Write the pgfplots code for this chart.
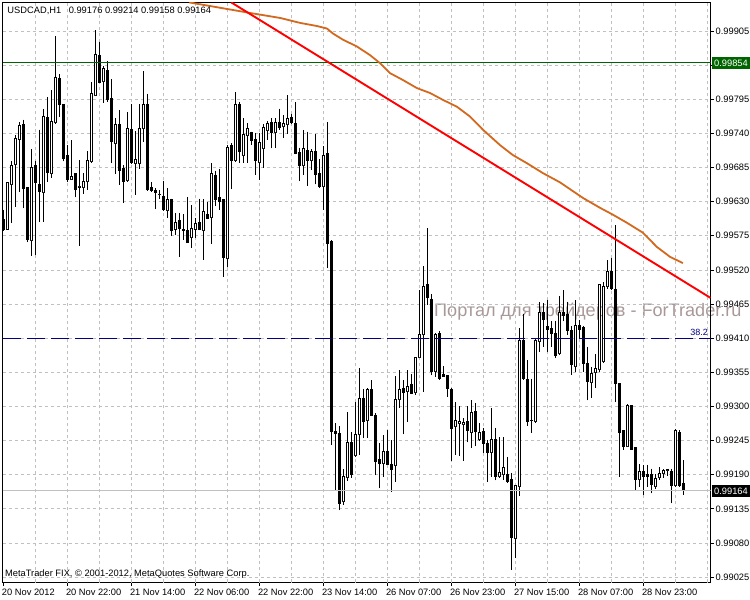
\documentclass[border=0pt]{standalone}
\usepackage{pgfplots}
\pgfplotsset{compat=1.18}
\usepgfplotslibrary{statistics}
\usepackage{fontspec}
\setmainfont{Liberation Sans}
\definecolor{gridc}{RGB}{192,192,192}
\definecolor{mgreen}{RGB}{0,100,0}
\definecolor{navyc}{RGB}{0,0,128}
\definecolor{maorange}{RGB}{210,105,30}
\definecolor{wmark}{RGB}{168,152,152}
\pgfplotsset{candle/.style={black, line width=0.9bp, boxplot/draw direction=y, boxplot/box extend=0.5, boxplot/whisker extend=0, boxplot/every median/.style={draw=none}}}
% prices are plotted as points above 0.99000 (e.g. 0.99586 -> 586)
\def\cptaux0.99#1\relax{#1}
\def\cpt#1{\expandafter\cptaux#1\relax}
% \candle{index}{open}{high}{low}{close}
\newcommand\candle[5]{%
  \ifdim #5pt<#2pt
    \def\cFill{black}\def\cLo{#5}\def\cHi{#2}%
  \else
    \def\cFill{white}\def\cLo{#2}\def\cHi{#5}%
  \fi
  \edef\cTmp{\noexpand\addplot[candle,fill=\cFill,boxplot prepared={draw position=#1,lower whisker=\cpt{#4},lower quartile=\cpt{\cLo},median=\cpt{\cLo},upper quartile=\cpt{\cHi},upper whisker=\cpt{#3}}] coordinates {};}%
  \cTmp}
\begin{document}
\begin{tikzpicture}
\useasboundingbox (0,0) rectangle (750bp,600bp);
% watermark (behind the chart)
\node[anchor=base west, inner sep=0pt, text=wmark, font=\fontsize{18.1bp}{20bp}\selectfont] at (434bp,283bp) {Портал для трейдеров - ForTrader.ru};
\begin{axis}[
  at={(2.7bp,17.5bp)}, anchor=south west,
  scale only axis, width=707.8bp, height=580bp,
  xmin=-0.15, xmax=176.8, ymin=16.4, ymax=950.9,
  axis line style={black, line width=0.9bp},
  font=\fontsize{9.3bp}{11bp}\selectfont,
  tick label style={font=\fontsize{9.3bp}{11bp}\selectfont},
  tick align=outside, major tick length=3.5bp,
  tick style={black, line width=0.8bp},
  xtick pos=bottom, ytick pos=right, yticklabel pos=right,
  xtick={0,16,32,48,64,80,96,112,128,144,160},
  xticklabels={20 Nov 2012,20 Nov 22:00,21 Nov 14:00,22 Nov 06:00,22 Nov 22:00,23 Nov 14:00,26 Nov 07:00,26 Nov 23:00,27 Nov 15:00,28 Nov 07:00,28 Nov 23:00},
  xticklabel style={anchor=north west, inner sep=0pt, xshift=-1.5bp, yshift=-2.5bp},
  extra x ticks={8,16,24,32,40,48,56,64,72,80,88,96,104,112,120,128,136,144,152,160,168,176},
  extra x tick labels={},
  extra x tick style={xmajorgrids=true, major tick length=0pt},
  xmajorgrids=false, ymajorgrids=true,
  major grid style={gridc, dash pattern=on 3bp off 3bp, line width=0.8bp},
  ytick={25,80,135,190,245,300,355,410,465,520,575,630,685,740,795,850,905},
  yticklabels={0.99025,0.99080,0.99135,0.99190,0.99245,0.99300,0.99355,0.99410,0.99465,0.99520,0.99575,0.99630,0.99685,0.99740,0.99795,{},0.99905},
  yticklabel style={anchor=west, inner sep=0pt, xshift=1.5bp},
]
\candle{0}{0.99602}{0.99617}{0.99583}{0.99586}
\candle{1}{0.99586}{0.99662}{0.99584}{0.99661}
\candle{2}{0.99658}{0.99695}{0.99595}{0.99689}
\candle{3}{0.99690}{0.99738}{0.99622}{0.99732}
\candle{4}{0.99731}{0.99759}{0.99646}{0.99752}
\candle{5}{0.99754}{0.99762}{0.99619}{0.99652}
\candle{6}{0.99653}{0.99654}{0.99565}{0.99569}
\candle{7}{0.99568}{0.99715}{0.99543}{0.99685}
\candle{8}{0.99688}{0.99696}{0.99544}{0.99661}
\candle{9}{0.99658}{0.99746}{0.99597}{0.99646}
\candle{10}{0.99645}{0.99779}{0.99598}{0.99768}
\candle{11}{0.99766}{0.99799}{0.99662}{0.99677}
\candle{12}{0.99676}{0.99810}{0.99668}{0.99760}
\candle{13}{0.99757}{0.99897}{0.99756}{0.99830}
\candle{14}{0.99828}{0.99835}{0.99767}{0.99786}
\candle{15}{0.99786}{0.99786}{0.99695}{0.99700}
\candle{16}{0.99704}{0.99721}{0.99662}{0.99665}
\candle{17}{0.99666}{0.99729}{0.99665}{0.99671}
\candle{18}{0.99675}{0.99676}{0.99637}{0.99650}
\candle{19}{0.99654}{0.99697}{0.99559}{0.99653}
\candle{20}{0.99653}{0.99676}{0.99642}{0.99663}
\candle{21}{0.99662}{0.99711}{0.99648}{0.99696}
\candle{22}{0.99695}{0.99823}{0.99693}{0.99804}
\candle{23}{0.99801}{0.99906}{0.99801}{0.99867}
\candle{24}{0.99865}{0.99888}{0.99821}{0.99822}
\candle{25}{0.99823}{0.99848}{0.99789}{0.99845}
\candle{26}{0.99841}{0.99857}{0.99791}{0.99794}
\candle{27}{0.99797}{0.99828}{0.99692}{0.99727}
\candle{28}{0.99724}{0.99764}{0.99674}{0.99754}
\candle{29}{0.99754}{0.99778}{0.99657}{0.99681}
\candle{30}{0.99683}{0.99689}{0.99628}{0.99662}
\candle{31}{0.99664}{0.99774}{0.99663}{0.99748}
\candle{32}{0.99747}{0.99787}{0.99692}{0.99693}
\candle{33}{0.99692}{0.99744}{0.99640}{0.99698}
\candle{34}{0.99692}{0.99787}{0.99683}{0.99748}
\candle{35}{0.99748}{0.99840}{0.99726}{0.99787}
\candle{36}{0.99787}{0.99804}{0.99648}{0.99649}
\candle{37}{0.99653}{0.99662}{0.99646}{0.99648}
\candle{38}{0.99648}{0.99652}{0.99618}{0.99645}
\candle{39}{0.99642}{0.99648}{0.99635}{0.99641}
\candle{40}{0.99639}{0.99664}{0.99615}{0.99617}
\candle{41}{0.99616}{0.99652}{0.99604}{0.99634}
\candle{42}{0.99633}{0.99635}{0.99575}{0.99583}
\candle{43}{0.99586}{0.99611}{0.99576}{0.99597}
\candle{44}{0.99599}{0.99612}{0.99541}{0.99587}
\candle{45}{0.99586}{0.99610}{0.99568}{0.99583}
\candle{46}{0.99584}{0.99637}{0.99563}{0.99565}
\candle{47}{0.99573}{0.99625}{0.99555}{0.99587}
\candle{48}{0.99586}{0.99603}{0.99572}{0.99595}
\candle{49}{0.99597}{0.99635}{0.99584}{0.99586}
\candle{50}{0.99584}{0.99635}{0.99536}{0.99615}
\candle{51}{0.99610}{0.99630}{0.99602}{0.99603}
\candle{52}{0.99605}{0.99692}{0.99561}{0.99675}
\candle{53}{0.99672}{0.99680}{0.99623}{0.99634}
\candle{54}{0.99637}{0.99683}{0.99617}{0.99630}
\candle{55}{0.99634}{0.99635}{0.99509}{0.99540}
\candle{56}{0.99539}{0.99721}{0.99525}{0.99718}
\candle{57}{0.99720}{0.99724}{0.99650}{0.99696}
\candle{58}{0.99696}{0.99807}{0.99695}{0.99786}
\candle{59}{0.99787}{0.99791}{0.99692}{0.99711}
\candle{60}{0.99705}{0.99765}{0.99692}{0.99739}
\candle{61}{0.99736}{0.99756}{0.99693}{0.99748}
\candle{62}{0.99742}{0.99743}{0.99722}{0.99728}
\candle{63}{0.99731}{0.99741}{0.99673}{0.99696}
\candle{64}{0.99693}{0.99741}{0.99665}{0.99726}
\candle{65}{0.99716}{0.99755}{0.99684}{0.99749}
\candle{66}{0.99744}{0.99760}{0.99729}{0.99756}
\candle{67}{0.99757}{0.99764}{0.99716}{0.99742}
\candle{68}{0.99741}{0.99764}{0.99717}{0.99758}
\candle{69}{0.99758}{0.99780}{0.99746}{0.99749}
\candle{70}{0.99751}{0.99769}{0.99733}{0.99756}
\candle{71}{0.99755}{0.99802}{0.99739}{0.99764}
\candle{72}{0.99766}{0.99772}{0.99755}{0.99758}
\candle{73}{0.99756}{0.99790}{0.99706}{0.99708}
\candle{74}{0.99710}{0.99717}{0.99663}{0.99689}
\candle{75}{0.99689}{0.99746}{0.99673}{0.99716}
\candle{76}{0.99713}{0.99743}{0.99656}{0.99697}
\candle{77}{0.99697}{0.99715}{0.99681}{0.99711}
\candle{78}{0.99711}{0.99739}{0.99658}{0.99674}
\candle{79}{0.99675}{0.99699}{0.99653}{0.99654}
\candle{80}{0.99654}{0.99720}{0.99617}{0.99705}
\candle{81}{0.99708}{0.99758}{0.99523}{0.99562}
\candle{82}{0.99566}{0.99568}{0.99238}{0.99259}
\candle{83}{0.99259}{0.99273}{0.99164}{0.99257}
\candle{84}{0.99257}{0.99268}{0.99133}{0.99144}
\candle{85}{0.99147}{0.99200}{0.99141}{0.99187}
\candle{86}{0.99186}{0.99291}{0.99180}{0.99242}
\candle{87}{0.99242}{0.99259}{0.99185}{0.99191}
\candle{88}{0.99221}{0.99307}{0.99219}{0.99255}
\candle{89}{0.99255}{0.99362}{0.99222}{0.99313}
\candle{90}{0.99313}{0.99328}{0.99249}{0.99276}
\candle{91}{0.99278}{0.99329}{0.99249}{0.99328}
\candle{92}{0.99328}{0.99343}{0.99285}{0.99286}
\candle{93}{0.99286}{0.99289}{0.99189}{0.99212}
\candle{94}{0.99215}{0.99241}{0.99168}{0.99208}
\candle{95}{0.99208}{0.99254}{0.99187}{0.99227}
\candle{96}{0.99227}{0.99262}{0.99206}{0.99207}
\candle{97}{0.99207}{0.99246}{0.99162}{0.99199}
\candle{98}{0.99205}{0.99349}{0.99179}{0.99312}
\candle{99}{0.99312}{0.99359}{0.99297}{0.99328}
\candle{100}{0.99329}{0.99343}{0.99255}{0.99323}
\candle{101}{0.99324}{0.99359}{0.99275}{0.99333}
\candle{102}{0.99335}{0.99352}{0.99320}{0.99321}
\candle{103}{0.99323}{0.99380}{0.99319}{0.99379}
\candle{104}{0.99379}{0.99488}{0.99378}{0.99416}
\candle{105}{0.99416}{0.99526}{0.99324}{0.99494}
\candle{106}{0.99496}{0.99587}{0.99464}{0.99475}
\candle{107}{0.99473}{0.99481}{0.99350}{0.99356}
\candle{108}{0.99356}{0.99418}{0.99348}{0.99416}
\candle{109}{0.99418}{0.99421}{0.99343}{0.99345}
\candle{110}{0.99351}{0.99365}{0.99348}{0.99348}
\candle{111}{0.99350}{0.99351}{0.99316}{0.99329}
\candle{112}{0.99328}{0.99329}{0.99212}{0.99265}
\candle{113}{0.99268}{0.99308}{0.99222}{0.99277}
\candle{114}{0.99273}{0.99300}{0.99221}{0.99276}
\candle{115}{0.99271}{0.99281}{0.99212}{0.99275}
\candle{116}{0.99276}{0.99300}{0.99242}{0.99261}
\candle{117}{0.99258}{0.99311}{0.99233}{0.99290}
\candle{118}{0.99292}{0.99306}{0.99236}{0.99259}
\candle{119}{0.99247}{0.99273}{0.99245}{0.99258}
\candle{120}{0.99259}{0.99265}{0.99225}{0.99240}
\candle{121}{0.99240}{0.99246}{0.99178}{0.99226}
\candle{122}{0.99226}{0.99297}{0.99187}{0.99247}
\candle{123}{0.99247}{0.99266}{0.99181}{0.99187}
\candle{124}{0.99187}{0.99251}{0.99186}{0.99193}
\candle{125}{0.99191}{0.99251}{0.99181}{0.99202}
\candle{126}{0.99191}{0.99219}{0.99177}{0.99179}
\candle{127}{0.99182}{0.99193}{0.99045}{0.99089}
\candle{128}{0.99088}{0.99174}{0.99070}{0.99172}
\candle{129}{0.99171}{0.99426}{0.99156}{0.99406}
\candle{130}{0.99407}{0.99449}{0.99344}{0.99345}
\candle{131}{0.99344}{0.99375}{0.99269}{0.99276}
\candle{132}{0.99278}{0.99345}{0.99258}{0.99277}
\candle{133}{0.99276}{0.99408}{0.99274}{0.99407}
\candle{134}{0.99404}{0.99469}{0.99388}{0.99452}
\candle{135}{0.99452}{0.99466}{0.99396}{0.99440}
\candle{136}{0.99429}{0.99472}{0.99388}{0.99424}
\candle{137}{0.99425}{0.99437}{0.99396}{0.99418}
\candle{138}{0.99417}{0.99437}{0.99378}{0.99383}
\candle{139}{0.99386}{0.99478}{0.99383}{0.99451}
\candle{140}{0.99452}{0.99487}{0.99437}{0.99446}
\candle{141}{0.99448}{0.99469}{0.99415}{0.99423}
\candle{142}{0.99422}{0.99430}{0.99351}{0.99367}
\candle{143}{0.99364}{0.99472}{0.99356}{0.99430}
\candle{144}{0.99431}{0.99439}{0.99411}{0.99424}
\candle{145}{0.99427}{0.99430}{0.99356}{0.99370}
\candle{146}{0.99370}{0.99396}{0.99310}{0.99340}
\candle{147}{0.99339}{0.99364}{0.99313}{0.99353}
\candle{148}{0.99355}{0.99384}{0.99329}{0.99361}
\candle{149}{0.99360}{0.99498}{0.99356}{0.99496}
\candle{150}{0.99372}{0.99501}{0.99370}{0.99494}
\candle{151}{0.99493}{0.99536}{0.99490}{0.99517}
\candle{152}{0.99517}{0.99539}{0.99488}{0.99490}
\candle{153}{0.99489}{0.99592}{0.99308}{0.99337}
\candle{154}{0.99337}{0.99337}{0.99187}{0.99258}
\candle{155}{0.99261}{0.99261}{0.99230}{0.99236}
\candle{156}{0.99236}{0.99304}{0.99234}{0.99302}
\candle{157}{0.99301}{0.99302}{0.99230}{0.99230}
\candle{158}{0.99234}{0.99234}{0.99164}{0.99183}
\candle{159}{0.99183}{0.99208}{0.99171}{0.99195}
\candle{160}{0.99195}{0.99206}{0.99157}{0.99187}
\candle{161}{0.99190}{0.99206}{0.99171}{0.99188}
\candle{162}{0.99190}{0.99200}{0.99160}{0.99174}
\candle{163}{0.99171}{0.99192}{0.99167}{0.99184}
\candle{164}{0.99186}{0.99203}{0.99181}{0.99192}
\candle{165}{0.99192}{0.99200}{0.99184}{0.99197}
\candle{166}{0.99197}{0.99200}{0.99188}{0.99199}
\candle{167}{0.99195}{0.99200}{0.99144}{0.99172}
\candle{168}{0.99172}{0.99263}{0.99171}{0.99261}
\candle{169}{0.99258}{0.99262}{0.99171}{0.99172}
\candle{170}{0.99176}{0.99214}{0.99158}{0.99164}
% horizontal lines
\addplot[gridc, line width=1bp] table[row sep=\\, x=k, y expr={(\thisrow{p}-0.99)*100000}] {k p\\ -0.15 0.99164\\ 176.8 0.99164\\};
\addplot[mgreen, line width=1.1bp] table[row sep=\\, x=k, y expr={(\thisrow{p}-0.99)*100000}] {k p\\ -0.15 0.99854\\ 176.8 0.99854\\};
\addplot[navyc, line width=1.3bp, dash pattern=on 18bp off 6bp] table[row sep=\\, x=k, y expr={(\thisrow{p}-0.99)*100000}] {k p\\ 0 0.99410\\ 176.8 0.99410\\};
% moving average
\addplot[maorange, line width=1.8bp] table[row sep=\\, x=k, y expr={(\thisrow{p}-0.99)*100000}] {
k p\\
46.5 0.99951\\ 61.7 0.99934\\ 69.2 0.99926\\ 74.2 0.99918\\ 78.4 0.99913\\ 80.9 0.99909\\
82.4 0.99901\\ 84.9 0.99891\\ 88.4 0.99880\\ 91.7 0.99866\\ 94.2 0.99853\\ 96.7 0.99837\\
99.9 0.99826\\ 103.4 0.99813\\ 106.7 0.99805\\ 109.9 0.99794\\ 113.4 0.99783\\ 116.7 0.99767\\
119.9 0.99746\\ 124.2 0.99721\\ 127.4 0.99705\\ 130.9 0.99692\\ 134.9 0.99676\\ 139.2 0.99661\\
144.9 0.99636\\ 149.2 0.99620\\ 152.4 0.99609\\ 155.9 0.99596\\ 159.9 0.99580\\ 163.4 0.99557\\
166.7 0.99541\\ 169.9 0.99531\\
};
% trend line
\addplot[red, line width=1.9bp] table[row sep=\\, x=k, y expr={(\thisrow{p}-0.99)*100000}] {k p\\ 57.0 0.99951\\ 176.8 0.99475\\};
\end{axis}
% texts
\node[anchor=west, inner sep=0pt, font=\fontsize{9.3bp}{11bp}\selectfont] at (7.3bp,589bp) {USDCAD,H1\hspace{5bp} 0.99176 0.99214 0.99158 0.99164};
\node[anchor=west, inner sep=0pt, font=\fontsize{9.3bp}{11bp}\selectfont] at (5bp,25.5bp) {MetaTrader FIX, © 2001-2012, MetaQuotes Software Corp.};
\node[anchor=east, inner sep=0pt, text=navyc, font=\fontsize{9bp}{11bp}\selectfont] at (708bp,267.5bp) {38.2};
\node[anchor=west, fill=mgreen, text=white, inner xsep=2.5bp, inner ysep=0pt, minimum height=12bp, font=\fontsize{9.3bp}{11bp}\selectfont] at (711.5bp,537bp) {0.99854};
\node[anchor=west, fill=black, text=white, inner xsep=2.5bp, inner ysep=0pt, minimum height=12bp, font=\fontsize{9.3bp}{11bp}\selectfont] at (711.5bp,109bp) {0.99164};
\end{tikzpicture}
\end{document}
